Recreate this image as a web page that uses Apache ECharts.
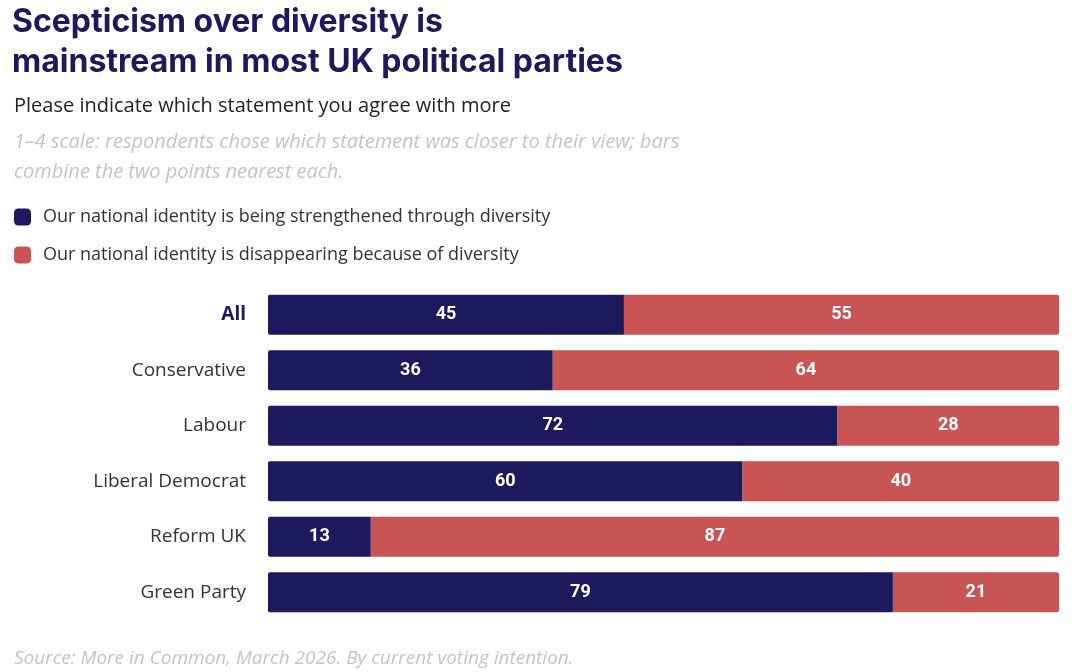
<!DOCTYPE html>
<html>
<head>
<meta charset="utf-8">
<script src="https://cdn.jsdelivr.net/npm/echarts@6/dist/echarts.min.js"></script>
<style>
  html, body { margin: 0; padding: 0; background: #fff; }
  #chart { width: 1078px; height: 672px; }
</style>
</head>
<body>
<div id="chart"></div>
<script>
// party rows, top to bottom
const parties = ['All', 'Conservative', 'Labour', 'Liberal Democrat', 'Reform UK', 'Green Party']
const strengthened = [45, 36, 72, 60, 13, 79]
const disappearing = [55, 64, 28, 40, 87, 21]
const seriesNames = [
  'Our national identity is being strengthened through diversity',
  'Our national identity is disappearing because of diversity',
]

const navy = '#1c1a5c'
const red = '#c85553'

const chart = echarts.init(document.getElementById('chart'))

const barLabel = {
  show: true,
  position: 'inside',
  color: '#fff',
  fontFamily: 'Roboto',
  fontWeight: 'bold',
  fontSize: 18,
}

chart.setOption({
  animation: false,
  title: [
    {
      text: 'Scepticism over diversity is\nmainstream in most UK political parties',
      left: 12,
      top: 2,
      padding: 0,
      textStyle: {
        color: navy,
        fontFamily: 'Inter',
        fontWeight: 'bold',
        fontSize: 32,
        lineHeight: 40,
      },
    },
    {
      text: 'Please indicate which statement you agree with more',
      left: 14,
      top: 96,
      padding: 0,
      textStyle: { color: '#222', fontFamily: 'Open Sans', fontWeight: 'normal', fontSize: 20 },
    },
    {
      text: '1–4 scale: respondents chose which statement was closer to their view; bars\ncombine the two points nearest each.',
      left: 14,
      top: 127,
      padding: 0,
      textStyle: {
        color: '#c4c4c4',
        fontFamily: 'Open Sans',
        fontStyle: 'italic',
        fontWeight: 'normal',
        fontSize: 20,
        lineHeight: 30,
      },
    },
    {
      text: 'Source: More in Common, March 2026. By current voting intention.',
      left: 14,
      top: 649,
      padding: 0,
      textStyle: {
        color: '#c4c4c4',
        fontFamily: 'Open Sans',
        fontStyle: 'italic',
        fontWeight: 'normal',
        fontSize: 19,
      },
    },
  ],
  legend: {
    orient: 'vertical',
    left: 14,
    top: 208,
    padding: 0,
    itemWidth: 17,
    itemHeight: 17,
    itemGap: 20,
    icon: 'roundRect',
    selectedMode: false,
    textStyle: { color: '#333', fontFamily: 'Open Sans', fontSize: 18, padding: [0, 0, 0, 7] },
    data: seriesNames,
  },
  grid: { left: 268, right: 19, top: 287, bottom: 52 },
  xAxis: {
    type: 'value',
    min: 0,
    max: 100,
    show: false,
  },
  yAxis: {
    type: 'category',
    data: parties,
    inverse: true,
    axisLine: { show: false },
    axisTick: { show: false },
    axisLabel: {
      margin: 22,
      fontSize: 19,
      color: '#333',
      fontFamily: 'Open Sans',
      formatter: (v) => (v === 'All' ? '{all|' + v + '}' : v),
      rich: {
        all: { fontSize: 19, fontWeight: 'bold', color: navy, fontFamily: 'Open Sans' },
      },
    },
  },
  series: [
    {
      name: seriesNames[0],
      type: 'bar',
      stack: 'total',
      barWidth: 40,
      data: strengthened,
      itemStyle: { color: navy, borderRadius: [2, 0, 0, 2] },
      label: barLabel,
    },
    {
      name: seriesNames[1],
      type: 'bar',
      stack: 'total',
      barWidth: 40,
      data: disappearing,
      itemStyle: { color: red, borderRadius: [0, 2, 2, 0] },
      label: barLabel,
    },
  ],
})
</script>
</body>
</html>
